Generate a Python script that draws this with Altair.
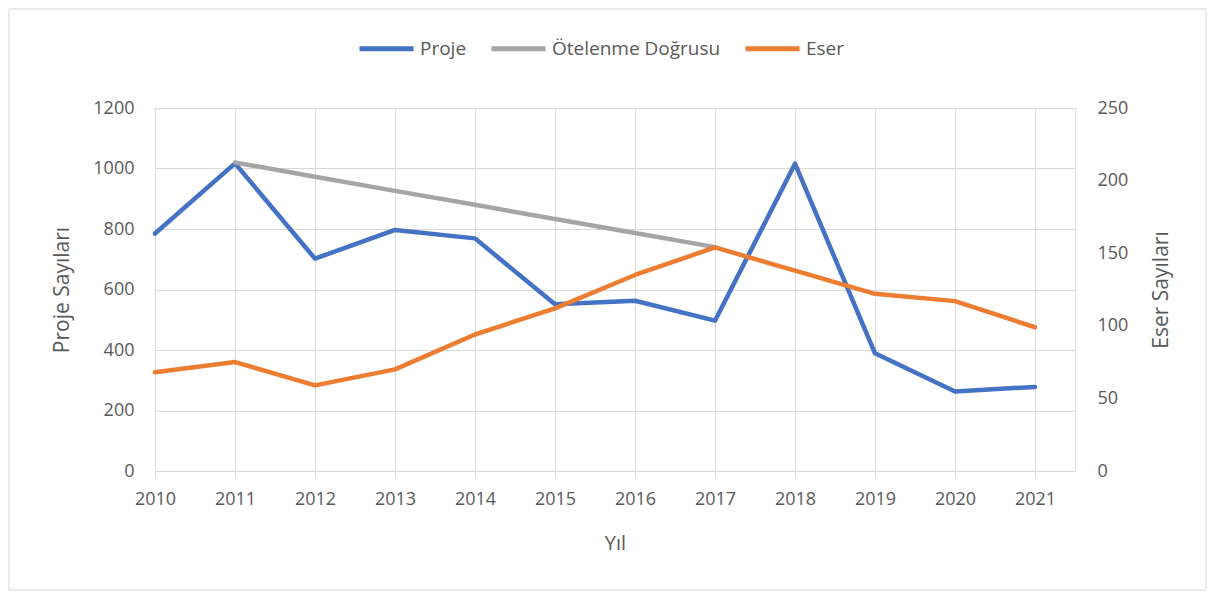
import altair as alt
import pandas as pd

# ---- data ----
years = [2010, 2011, 2012, 2013, 2014, 2015, 2016, 2017, 2018, 2019, 2020, 2021]
proje = [785, 1017, 702, 797, 769, 551, 563, 497, 1016, 389, 263, 278]
trend_years = [2011, 2012, 2013, 2014, 2015, 2016, 2017]
trend = [1020, 973, 926, 880, 833, 787, 740]
eser = [68, 75, 59, 70, 94, 112, 135, 154, 138, 122, 117, 99]

series_names = ["Proje", "Ötelenme Doğrusu", "Eser"]
series_colors = ["#4472C4", "#A5A5A5", "#ED7D31"]

FONT = "Open Sans"
TXT = "#595959"
GRID = "#D9D9D9"

left_df = pd.concat([
    pd.DataFrame({"Yıl": years, "Değer": proje, "Seri": "Proje"}),
    pd.DataFrame({"Yıl": trend_years, "Değer": trend, "Seri": "Ötelenme Doğrusu"}),
])
right_df = pd.DataFrame({"Yıl": years, "Değer": eser, "Seri": "Eser"})

color = alt.Color(
    "Seri:N",
    scale=alt.Scale(domain=series_names, range=series_colors),
    sort=series_names,
    legend=alt.Legend(
        title=None, orient="none", legendX=202, legendY=-89,
        direction="horizontal", symbolType="stroke", symbolSize=2916,
        symbolStrokeWidth=5, labelFontSize=19, labelColor=TXT, labelFont=FONT,
        labelLimit=400, columnPadding=14, labelOffset=4, padding=0,
    ),
)

x = alt.X(
    "Yıl:Q",
    scale=alt.Scale(domain=[2010, 2021.5], nice=False, zero=False),
    axis=alt.Axis(
        values=years, format="d", grid=True, gridColor=GRID, domain=False,
        ticks=True, tickColor=GRID, tickSize=6, labelPadding=13,
        labelFontSize=18, labelColor=TXT, labelFont=FONT,
        title="Yıl", titleFontSize=20, titleColor=TXT, titleFont=FONT,
        titleFontWeight="normal", titlePadding=25, labelFlush=False,
    ),
)

frame = alt.Chart(pd.DataFrame({"a": [0]})).mark_rect(
    fill="transparent", stroke=GRID, strokeWidth=1
).encode(
    x=alt.value(-146), x2=alt.value(1051), y=alt.value(-99), y2=alt.value(482)
)

left = alt.Chart(left_df).mark_line(
    strokeWidth=4.5, strokeCap="round", strokeJoin="round"
).encode(
    x=x,
    y=alt.Y(
        "Değer:Q",
        scale=alt.Scale(domain=[0, 1200], nice=False),
        axis=alt.Axis(
            orient="left", values=[0, 200, 400, 600, 800, 1000, 1200],
            format="d",
            grid=True, gridColor=GRID, domain=False, ticks=False,
            labelPadding=21, labelFontSize=18, labelColor=TXT, labelFont=FONT,
            title="Proje Sayıları", titleFontSize=21, titleColor=TXT,
            titleFont=FONT, titleFontWeight="normal", titlePadding=20,
        ),
    ),
    color=color,
    detail="Seri:N",
)

right = alt.Chart(right_df).mark_line(
    strokeWidth=4.5, strokeCap="round", strokeJoin="round"
).encode(
    x=x,
    y=alt.Y(
        "Değer:Q",
        scale=alt.Scale(domain=[0, 250], nice=False),
        axis=alt.Axis(
            orient="right", values=[0, 50, 100, 150, 200, 250],
            format="d",
            grid=False, domain=False, ticks=False,
            labelPadding=22, labelFontSize=18, labelColor=TXT, labelFont=FONT,
            title="Eser Sayıları", titleFontSize=21, titleColor=TXT,
            titleFont=FONT, titleFontWeight="normal", titlePadding=44,
            titleAngle=270,
        ),
    ),
    color=color,
)

chart = alt.layer(frame, left, right).resolve_scale(
    y="independent"
).properties(
    width=920, height=363,
    autosize=alt.AutoSizeParams(type="none"),
    padding={"left": 147, "top": 100, "right": 133, "bottom": 122},
).configure_view(stroke=None).configure(background="white")

chart.save("out.html", embed_options={"renderer": "svg", "actions": False})
